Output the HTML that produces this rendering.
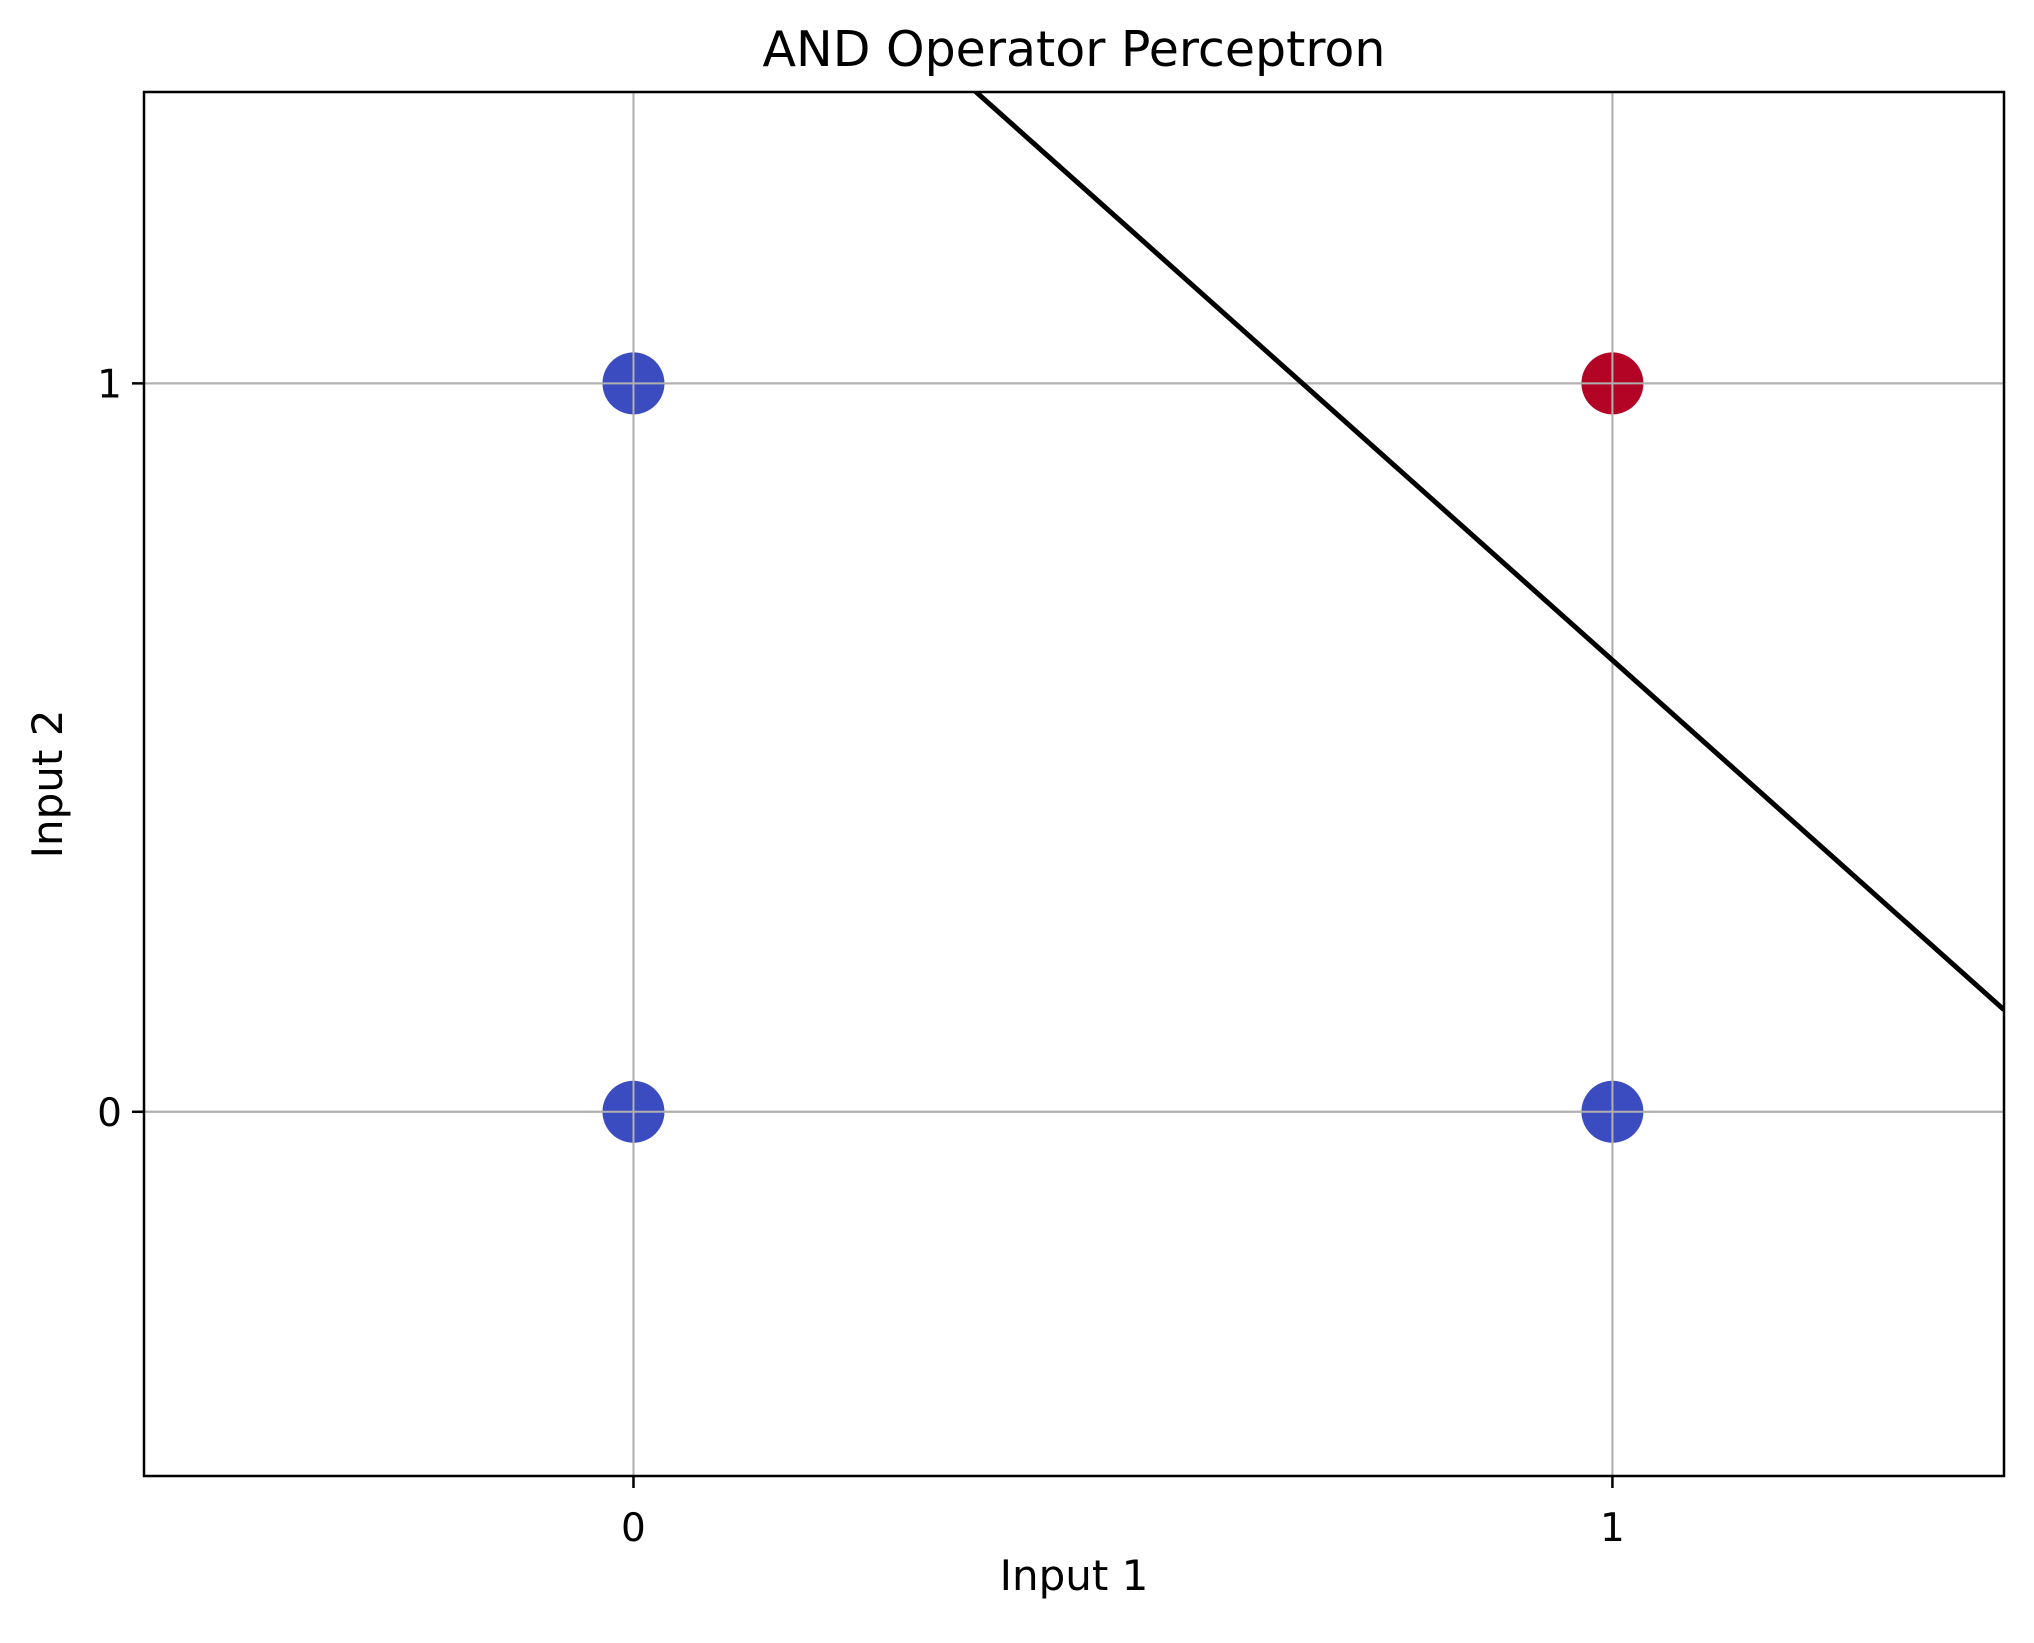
<!DOCTYPE html>
<html><head><meta charset="utf-8"><style>
html,body{margin:0;padding:0;background:#fff;}
svg text{font-family:"DejaVu Sans","Liberation Sans",sans-serif;fill:#000;}
</style></head><body>
<svg id="chart" width="2034" height="1638" viewBox="0 0 2034 1638" xmlns="http://www.w3.org/2000/svg">
<rect width="2034" height="1638" fill="#fff"/>
<g id="grid"></g>
<g id="marks"></g>
<g id="axes"></g>
<text x="1074" y="66" font-size="49" text-anchor="middle">AND Operator Perceptron</text>
<text x="1074" y="1590" font-size="42" text-anchor="middle">Input 1</text>
<text x="0" y="0" font-size="42" text-anchor="middle" transform="translate(62,784) rotate(-90)">Input 2</text>
</svg>
<script>
const xValues = [0, 1, 0, 1];
const yValues = [0, 0, 1, 1];
const labels = [0, 0, 0, 1];
const xTicks = [0, 1];
const yTicks = [0, 1];
const weights = [0.24, 0.2];
const bias = [-0.364];
const xDomain = [-0.5, 1.4];
const yDomain = [-0.5, 1.4];

const L=144,R=2004,T=92,B=1476;
const sx=v=>L+(v-xDomain[0])/(xDomain[1]-xDomain[0])*(R-L);
const sy=v=>B-(v-yDomain[0])/(yDomain[1]-yDomain[0])*(B-T);
const NS="http://www.w3.org/2000/svg";
function mk(tag,attrs,parent){const e=document.createElementNS(NS,tag);for(const k in attrs)e.setAttribute(k,attrs[k]);document.getElementById(parent).appendChild(e);return e;}

xTicks.forEach(t=>{
  const g=mk('line',{x1:sx(t),x2:sx(t),y1:T,y2:B,stroke:'#b0b0b0','stroke-width':2},'grid');
  
  
  const tk=mk('line',{x1:sx(t),x2:sx(t),y1:B,y2:B+12,stroke:'#000','stroke-width':2.5},'axes');
  
  
  const tx=mk('text',{x:sx(t),y:B+65,'font-size':39,'text-anchor':'middle'},'axes');
  tx.textContent=String(t);
  
  
});
yTicks.forEach(t=>{
  const g=mk('line',{x1:L,x2:R,y1:sy(t),y2:sy(t),stroke:'#b0b0b0','stroke-width':2},'grid');
  
  
  const tk=mk('line',{x1:L-12,x2:L,y1:sy(t),y2:sy(t),stroke:'#000','stroke-width':2.5},'axes');
  
  
  const tx=mk('text',{x:L-22,y:sy(t)+14,'font-size':39,'text-anchor':'end'},'axes');
  tx.textContent=String(t);
  
  
});

xValues.forEach((x,i)=>{
  const c=mk('circle',{cx:sx(x),cy:sy(yValues[i]),r:31,fill:labels[i]?'#b40426':'#3b4cc0'},'marks');
  
  
});
xTicks.forEach(t=>{const g=mk('line',{x1:sx(t),x2:sx(t),y1:T,y2:B,stroke:'#b0b0b0','stroke-width':2},'marks');
  
  });
yTicks.forEach(t=>{const g=mk('line',{x1:L,x2:R,y1:sy(t),y2:sy(t),stroke:'#b0b0b0','stroke-width':2},'marks');
  
  });

const lineY=x=>-(weights[0]*x+bias[0])/weights[1];
const xa=xDomain[0], xb=xDomain[1];
const clip=mk('clipPath',{id:'plotclip'},'marks');
const cr=document.createElementNS(NS,'rect');cr.setAttribute('x',L);cr.setAttribute('y',T);cr.setAttribute('width',R-L);cr.setAttribute('height',B-T);clip.appendChild(cr);
const dl=mk('line',{x1:sx(xa),y1:sy(lineY(xa)),x2:sx(xb),y2:sy(lineY(xb)),stroke:'#000','stroke-width':5,'clip-path':'url(#plotclip)'},'marks');



const fr=mk('rect',{x:L,y:T,width:R-L,height:B-T,fill:'none',stroke:'#000','stroke-width':2.5},'axes');


</script>
</body></html>
